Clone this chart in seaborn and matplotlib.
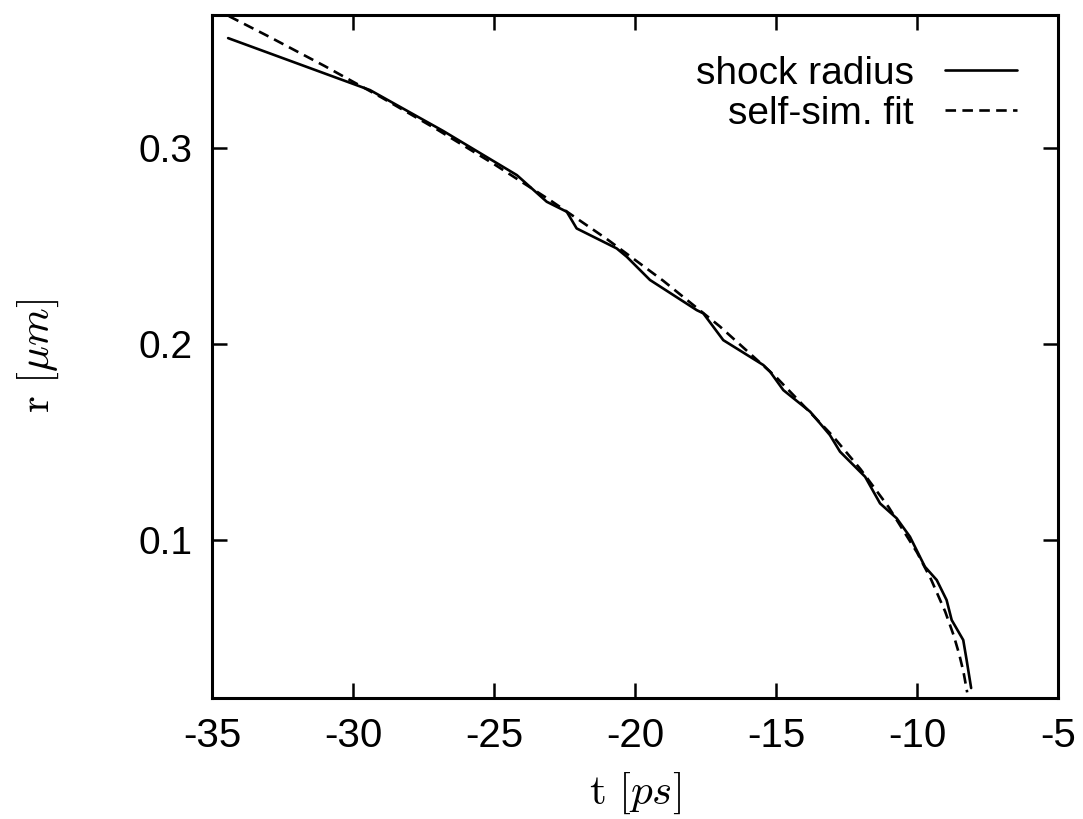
import matplotlib
matplotlib.use("Agg")
import matplotlib.pyplot as plt
import seaborn as sns
import pandas as pd

# shock radius (simulation)
shock_t = [-34.43, -29.40, -26.8, -24.19, -23.13, -22.42, -22.07, -20.65, -20.29, -19.47,
           -17.81, -17.58, -16.87, -15.45, -15.21, -14.74, -13.79, -13.09, -12.73, -11.84,
           -11.31, -10.72, -10.25, -9.72, -9.30, -8.95, -8.77, -8.36, -8.24, -8.08]
shock_r = [0.3561, 0.3296, 0.3087, 0.2862, 0.2726, 0.2675, 0.2590, 0.2488, 0.2445, 0.2327,
           0.2173, 0.2157, 0.2020, 0.1893, 0.1859, 0.1765, 0.1655, 0.1536, 0.1451, 0.1323,
           0.1187, 0.1111, 0.1017, 0.0864, 0.0796, 0.0694, 0.0592, 0.0490, 0.0388, 0.0245]

# self-similar fit curve
fit_t = [-34.4, -33.0, -31.0, -29.0, -27.0, -25.0, -23.0, -21.0, -19.0, -17.0,
         -15.0, -13.0, -12.0, -11.0, -10.0, -9.5, -9.0, -8.7, -8.5, -8.35, -8.22]
fit_r = [0.3673, 0.3570, 0.3418, 0.3259, 0.3093, 0.2918, 0.2733, 0.2536, 0.2323, 0.2091,
         0.1832, 0.1533, 0.1361, 0.1167, 0.0937, 0.0799, 0.0635, 0.0514, 0.0416, 0.0326, 0.0223]

x_ticks = [-35, -30, -25, -20, -15, -10, -5]
y_ticks = [0.1, 0.2, 0.3]

sns.set_theme(style="ticks")
plt.rcParams['font.family'] = ['Liberation Sans', 'DejaVu Sans']
plt.rcParams['mathtext.fontset'] = 'cm'
plt.rcParams['axes.edgecolor'] = 'black'
plt.rcParams['text.color'] = 'black'
plt.rcParams['axes.labelcolor'] = 'black'
plt.rcParams['xtick.color'] = 'black'
plt.rcParams['ytick.color'] = 'black'

fig = plt.figure(figsize=(10.83, 8.19), dpi=100)
ax = fig.add_axes([0.1958, 0.1477, 0.9769 - 0.1958, 0.9817 - 0.1477])

df_shock = pd.DataFrame({"t": shock_t, "r": shock_r})
df_fit = pd.DataFrame({"t": fit_t, "r": fit_r})

sns.lineplot(data=df_shock, x="t", y="r", ax=ax, sort=False, estimator=None,
             color="black", linewidth=1.9, label="shock radius")
sns.lineplot(data=df_fit, x="t", y="r", ax=ax, sort=False, estimator=None,
             color="black", linewidth=1.9, label="self-sim. fit")
ax.lines[1].set_dashes([4.0, 2.4])

ax.set_xlim(-35, -5)
ax.set_ylim(0.0194, 0.3679)
ax.set_xticks(x_ticks)
ax.set_xticklabels([str(v) for v in x_ticks])
ax.set_yticks(y_ticks)
ax.set_yticklabels([f"{v:.1f}" for v in y_ticks])

for s in ax.spines.values():
    s.set_linewidth(2.2)
    s.set_color("black")
    s.set_visible(True)

ax.tick_params(direction="in", length=11, width=1.8, labelsize=28, colors="black",
               top=True, right=True, pad=14)
ax.tick_params(axis="x", labelsize=29)

ax.set_xlabel(r"$\mathrm{t}\ [ps]$", fontsize=31, labelpad=11)
ax.set_ylabel(r"$\mathrm{r}\ [\mu m]$", fontsize=31, labelpad=56)

leg = ax.legend(loc="upper right", frameon=False, markerfirst=False, fontsize=28,
                handlelength=1.85, handletextpad=0.8, labelspacing=0.1,
                borderaxespad=0.65)
for t in leg.get_texts():
    t.set_ha("right")
    t.set_color("black")
leg._legend_box.align = "right"

fig.savefig("out.png", dpi=100)
